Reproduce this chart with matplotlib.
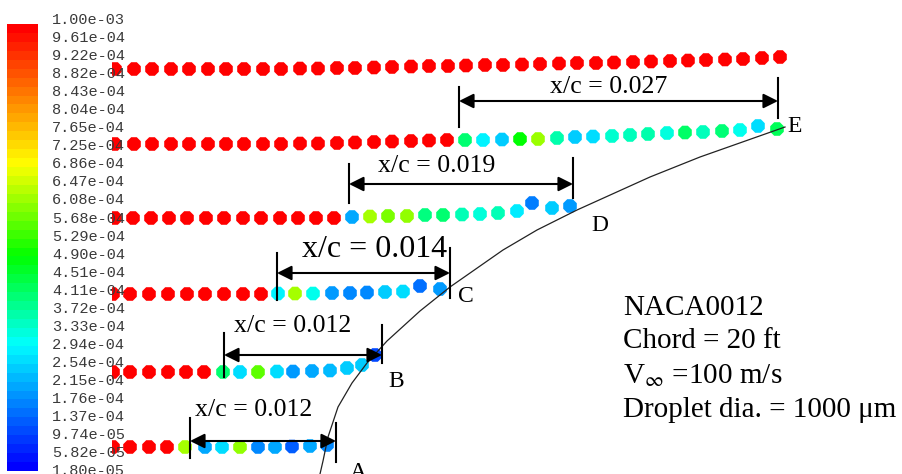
import matplotlib
matplotlib.use("Agg")
import matplotlib.pyplot as plt
import numpy as np
from matplotlib.colors import LinearSegmentedColormap, Normalize

W, H = 903, 474

plt.rcParams["font.family"] = ["Liberation Serif", "DejaVu Serif"]
plt.rcParams["mathtext.fontset"] = "stix"

# ── colour scale: droplet diameter (um) ──────────────────────────────────────
D_MIN, D_MAX = 18.0, 1000.0
cbar_labels = [
    "1.00e-03", "9.61e-04", "9.22e-04", "8.82e-04", "8.43e-04", "8.04e-04",
    "7.65e-04", "7.25e-04", "6.86e-04", "6.47e-04", "6.08e-04", "5.68e-04",
    "5.29e-04", "4.90e-04", "4.51e-04", "4.11e-04", "3.72e-04", "3.33e-04",
    "2.94e-04", "2.54e-04", "2.15e-04", "1.76e-04", "1.37e-04", "9.74e-05",
    "5.82e-05", "1.80e-05",
]

# ── droplet trajectories (x, y, diameter um) ─────────────────────────────────
# free stream row, all parent droplets
top_x = [115, 134, 152, 171, 189, 208, 226, 244, 263, 281, 300, 318, 337, 355,
         374, 392, 411, 429, 448, 466, 485, 503, 522, 540, 559, 577, 596, 614,
         633, 651, 670, 688, 706, 725, 743, 762, 780]
top_y = [69, 69, 69, 69, 69, 69, 69, 69, 69, 69, 68.5, 68.5, 68, 68, 67.5, 67,
         66.5, 66, 66, 65.5, 65, 65, 64.5, 64, 63.5, 63, 63, 62.5, 62, 61.5,
         61, 60.5, 60, 59.5, 59, 58, 57]
top_d = [1000] * 37

# row hitting E
e_x = [115, 134, 152, 171, 189, 208, 226, 244, 263, 281, 300, 318, 337, 355,
       374, 392, 411, 429, 447,
       465, 483, 502, 520, 538, 557, 575, 593, 612, 630, 648, 667, 685, 703,
       722, 740, 758, 777]
e_y = [144, 144, 144, 144, 144, 144, 144, 144, 144, 144, 143.5, 143.5, 143,
       142.5, 142, 141.5, 141, 140.5, 140,
       140, 140, 139.5, 139, 139, 138, 137, 136.5, 136, 135, 134, 133, 132.5,
       132, 131, 130, 126, 129]
e_d = [1000] * 19 + [404, 279, 238, 489, 613, 359, 238, 256, 332, 345, 359,
                     319, 411, 345, 398, 306, 256, 424]

# row hitting D
d_x = [115, 133, 151, 169, 187, 206, 224, 243, 261, 280, 298, 316, 334,
       352, 370, 388, 407, 425, 443, 462, 480, 498, 517, 532, 552, 570]
d_y = [218] * 13 + [217, 216.5, 216, 216, 215, 215, 214.5, 214, 213, 211, 203,
                    208, 206]
d_d = [1000] * 13 + [201, 623, 586, 606, 391, 404, 349, 322, 349, 275, 155,
                     238, 183]

# row hitting C
c_x = [113, 130, 149, 168, 187, 205, 224, 243, 261,
       278, 295, 313, 332, 350, 367, 385, 403, 420, 440]
c_y = [294] * 9 + [293.5, 293.5, 293.5, 293, 293, 292.5, 292, 291.5, 286, 289]
c_d = [1000] * 9 + [279, 623, 306, 183, 165, 165, 238, 256, 137, 183]

# row hitting B
b_x = [113, 130, 149, 168, 186, 204,
       223, 240, 258, 277, 293, 312, 330, 347, 362, 375]
b_y = [372] * 6 + [372, 372, 372, 371.5, 371.5, 371, 370.5, 368, 365, 355]
b_d = [1000] * 6 + [404, 256, 565, 256, 183, 201, 220, 238, 238, 96]

# row hitting A
a_x = [113, 130, 149, 167, 185, 205, 222, 240, 258, 275, 292, 310, 327]
a_y = [447] * 4 + [447, 447, 447, 447, 447, 447, 446.5, 446, 445]
a_d = [1000] * 4 + [623, 201, 256, 606, 165, 201, 119, 201, 165]

# airfoil surface near the leading edge
wall_x = [320, 323, 328, 338, 352, 367, 387, 420, 450, 503, 537, 577, 650,
          700, 785]
wall_y = [474, 461, 437, 407, 383, 363, 341, 311, 287, 250, 230, 210, 177,
          157, 127]

# impingement-spread dimensions: start x, end x, arrow y, label
span_x0 = [459, 349, 277, 224, 190]
span_x1 = [778, 573, 450, 382, 336]
span_y = [101, 184, 273, 355, 441]
span_lbl = ["x/c = 0.027", "x/c = 0.019", "x/c = 0.014", "x/c = 0.012",
            "x/c = 0.012"]

# ── colour map (Fluent-like rainbow) ─────────────────────────────────────────
cmap = LinearSegmentedColormap.from_list(
    "fluent",
    [(0.0, "#0000ff"), (0.28, "#00ffff"), (0.48, "#00ff00"),
     (0.69, "#ffff00"), (1.0, "#ff0000")])
norm = Normalize(D_MIN, D_MAX)

fig = plt.figure(figsize=(W / 100, H / 100), dpi=100)

# droplets (clipped on the left like the original viewport)
ax = fig.add_axes([112 / W, 0, 1 - 112 / W, 1])
ax.set_xlim(112, W)
ax.set_ylim(H, 0)
ax.axis("off")
for xs, ys, ds in [(top_x, top_y, top_d), (e_x, e_y, e_d), (d_x, d_y, d_d),
                   (c_x, c_y, c_d), (b_x, b_y, b_d), (a_x, a_y, a_d)]:
    ax.scatter(xs, ys, c=ds, cmap=cmap, norm=norm, s=112, marker="8",
               linewidths=0, zorder=3)

# overlay for everything else
ov = fig.add_axes([0, 0, 1, 1], zorder=5)
ov.set_xlim(0, W)
ov.set_ylim(H, 0)
ov.axis("off")
ov.patch.set_alpha(0)

# colour bar
bar_cmap = cmap.resampled(50)
ov.imshow(np.linspace(0, 1, 200).reshape(-1, 1), cmap=bar_cmap, origin="lower",
          extent=(7, 38, 471, 24), aspect="auto", interpolation="nearest")
for i, lbl in enumerate(cbar_labels):
    ov.text(52, 20 + i * 18.05, lbl, family="Liberation Mono", fontsize=11,
            color="#3a3a3a", va="center", ha="left")

# airfoil wall
ov.plot(wall_x, wall_y, color="#222222", lw=0.9)

# dimension lines
tick_top = [(87, 78), (164, 158), (253, 248), (333, 325), (418, 423)]
tick_bot = [(127, 118), (203, 198), (300, 298), (377, 363), (458, 462)]
lbl_pos = [(609, 93, 18.6), (437, 172, 18.6), (375, 257, 23),
           (293, 332, 18.6), (254, 416, 18.6)]
for x0, x1, y, lbl, tt, tb, lp in zip(span_x0, span_x1, span_y, span_lbl,
                                      tick_top, tick_bot, lbl_pos):
    ov.plot([x0, x0], [tt[0], tb[0]], color="black", lw=1.5)
    ov.plot([x1, x1], [tt[1], tb[1]], color="black", lw=1.5)
    ov.annotate("", xy=(x1, y), xytext=(x0, y),
                arrowprops=dict(arrowstyle="<|-|>", color="black", lw=1.5,
                                mutation_scale=22, shrinkA=0, shrinkB=0))
    ov.text(lp[0], lp[1], lbl, fontsize=lp[2], ha="center", va="baseline")

# impact point letters
for ch, x, y in [("A", 358, 478), ("B", 396, 387), ("C", 466, 302),
                 ("D", 600, 231), ("E", 795, 132)]:
    ov.text(x, y, ch, fontsize=17, ha="center", va="baseline")

# case description
for txt, y in [("NACA0012", 315), ("Chord = 20 ft", 348),
               (r"V$_{\infty}$ =100 m/s", 383),
               ("Droplet dia. = 1000 \u03bcm", 417)]:
    ov.text(623, y, txt, fontsize=21, ha="left", va="baseline")

fig.savefig("out.png", dpi=100)
